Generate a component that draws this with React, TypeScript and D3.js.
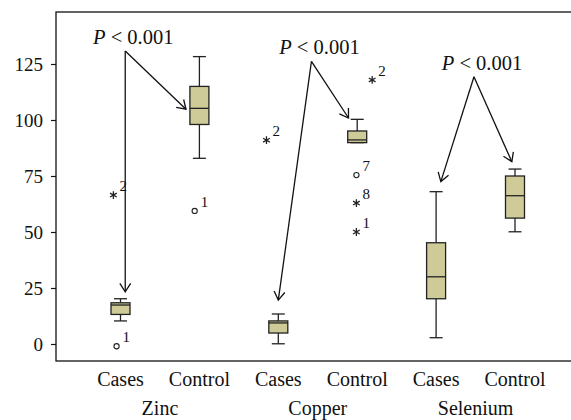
import React, { useEffect, useRef } from "react";
import * as d3 from "d3";

// groups and box categories
const groups = ["Zinc", "Copper", "Selenium"];
const categories = ["Cases", "Control", "Cases", "Control", "Cases", "Control"];
const yTicks = [0, 25, 50, 75, 100, 125];

// five-number summaries: [low, q1, median, q3, high]
const boxStats: number[][] = [
  [10.3, 13.2, 17.4, 18.4, 20.2],
  [82.9, 98, 105.2, 115, 128.3],
  [0.1, 4.9, 9.4, 10.3, 13.4],
  [89.9, 89.9, 91.1, 95.1, 100.3],
  [2.8, 20.2, 30, 45.2, 68],
  [50.1, 56.2, 66.2, 75, 78.1],
];

// outliers: category index, value, marker kind, case label, jitter in category units
const outliers = [
  { cat: 0, v: -1.0, kind: "o", label: "1", jit: -0.05 },
  { cat: 0, v: 66.5, kind: "*", label: "2", jit: -0.09 },
  { cat: 1, v: 59.4, kind: "o", label: "1", jit: -0.06 },
  { cat: 2, v: 91, kind: "*", label: "2", jit: -0.15 },
  { cat: 3, v: 117.9, kind: "*", label: "2", jit: 0.19 },
  { cat: 3, v: 75.4, kind: "o", label: "7", jit: -0.01 },
  { cat: 3, v: 62.9, kind: "*", label: "8", jit: -0.01 },
  { cat: 3, v: 50, kind: "*", label: "1", jit: -0.01 },
];

// significance annotations: apex and the two arrow tips in (category, value)
const annotations = [
  { apex: [0.06, 130.8], tips: [[0.06, 23.3], [0.83, 104.8]] },
  { apex: [2.42, 126.2], tips: [[2.0, 19.6], [2.89, 100.9]] },
  { apex: [4.48, 119.3], tips: [[4.06, 72.5], [4.96, 81.4]] },
];
const pText = "< 0.001";

const W = 571, H = 420;
const serif = "Liberation Serif, DejaVu Serif, serif";

export default function App() {
  const ref = useRef<SVGSVGElement>(null);
  useEffect(() => {
    const node = ref.current; if (!node) return;
    const svg = d3.select(node);
    svg.selectAll("*").remove();
    svg.attr("font-family", serif);
    const x = d3.scaleLinear().domain([0, 5]).range([120.5, 515]);
    const y = d3.scaleLinear().domain([0, 125]).range([344, 64]);
    const frame = { l: 56, t: 12, b: 361 };

    svg.append("rect").attr("x", frame.l).attr("y", frame.t).attr("width", W + 20 - frame.l).attr("height", frame.b - frame.t)
      .attr("fill", "none").attr("stroke", "#111").attr("stroke-width", 1.3);

    // y axis
    const ya = svg.append("g").attr("transform", `translate(${frame.l},0)`)
      .call(d3.axisLeft(y).tickValues(yTicks).tickSize(5).tickPadding(8));
    ya.attr("font-family", serif).attr("font-size", 19);
    ya.select(".domain").remove();
    ya.selectAll("line").attr("stroke", "#111").attr("stroke-width", 1.2);
    ya.selectAll("text").attr("fill", "#111");

    // category labels
    svg.append("g").selectAll("text").data(categories).join("text")
      .attr("x", (_, i) => x(i)).attr("y", 386).attr("text-anchor", "middle")
      .attr("font-size", 20).attr("fill", "#111").text((d) => d);
    svg.append("g").selectAll("text").data(groups).join("text")
      .attr("x", (_, i) => (x(i * 2) + x(i * 2 + 1)) / 2).attr("y", 415).attr("text-anchor", "middle")
      .attr("font-size", 20).attr("fill", "#111").text((d) => d);

    // boxes
    const bw = 19, cw = 13;
    const boxes = svg.append("g").selectAll("g").data(boxStats).join("g").attr("stroke", "#222").attr("stroke-width", 1.3);
    boxes.append("line").attr("x1", (_, i) => x(i)).attr("x2", (_, i) => x(i)).attr("y1", (d) => y(d[4])).attr("y2", (d) => y(d[3]));
    boxes.append("line").attr("x1", (_, i) => x(i)).attr("x2", (_, i) => x(i)).attr("y1", (d) => y(d[1])).attr("y2", (d) => y(d[0]));
    boxes.append("line").attr("x1", (_, i) => x(i) - cw / 2).attr("x2", (_, i) => x(i) + cw / 2).attr("y1", (d) => y(d[4])).attr("y2", (d) => y(d[4]));
    boxes.append("line").attr("x1", (_, i) => x(i) - cw / 2).attr("x2", (_, i) => x(i) + cw / 2).attr("y1", (d) => y(d[0])).attr("y2", (d) => y(d[0]));
    boxes.append("rect").attr("x", (_, i) => x(i) - bw / 2).attr("width", bw)
      .attr("y", (d) => y(d[3])).attr("height", (d) => y(d[1]) - y(d[3])).attr("fill", "#cecb98");
    boxes.append("line").attr("x1", (_, i) => x(i) - bw / 2).attr("x2", (_, i) => x(i) + bw / 2).attr("y1", (d) => y(d[2])).attr("y2", (d) => y(d[2]));

    // outliers
    const og = svg.append("g");
    outliers.forEach((o) => {
      const cx = x(o.cat + o.jit), cy = y(o.v);
      if (o.kind === "o") {
        og.append("circle").attr("cx", cx).attr("cy", cy).attr("r", 2.6).attr("fill", "#fff").attr("stroke", "#222").attr("stroke-width", 1.1);
      } else {
        og.append("path").attr("transform", `translate(${cx},${cy})`).attr("d", d3.symbol(d3.symbolAsterisk, 42)())
          .attr("fill", "none").attr("stroke", "#222").attr("stroke-width", 1.3);
      }
      og.append("text").attr("x", cx + 6).attr("y", cy - 4).attr("font-size", 15).attr("fill", "#111").text(o.label);
    });

    // significance arrows
    const ag = svg.append("g").attr("stroke", "#111").attr("stroke-width", 1.3).attr("fill", "none");
    annotations.forEach((a) => {
      const ax = x(a.apex[0]), ay = y(a.apex[1]);
      a.tips.forEach(([tc, tv]) => {
        const tx = x(tc), ty = y(tv);
        ag.append("line").attr("x1", ax).attr("y1", ay).attr("x2", tx).attr("y2", ty);
        const ang = Math.atan2(ty - ay, tx - ax), len = 10, spread = Math.PI / 5.5;
        const head = d3.path();
        head.moveTo(tx - len * Math.cos(ang - spread), ty - len * Math.sin(ang - spread));
        head.lineTo(tx, ty);
        head.lineTo(tx - len * Math.cos(ang + spread), ty - len * Math.sin(ang + spread));
        ag.append("path").attr("d", head.toString());
      });
      const t = svg.append("text").attr("x", ax + 8).attr("y", ay - 7).attr("text-anchor", "middle")
        .attr("font-size", 20.5).attr("fill", "#111");
      t.append("tspan").attr("font-style", "italic").text("P");
      t.append("tspan").text(" " + pText);
    });
  }, []);
  return <svg ref={ref} width={W} height={H} style={{ position: "absolute", left: 0, top: 0, background: "#fff" }} />;
}
